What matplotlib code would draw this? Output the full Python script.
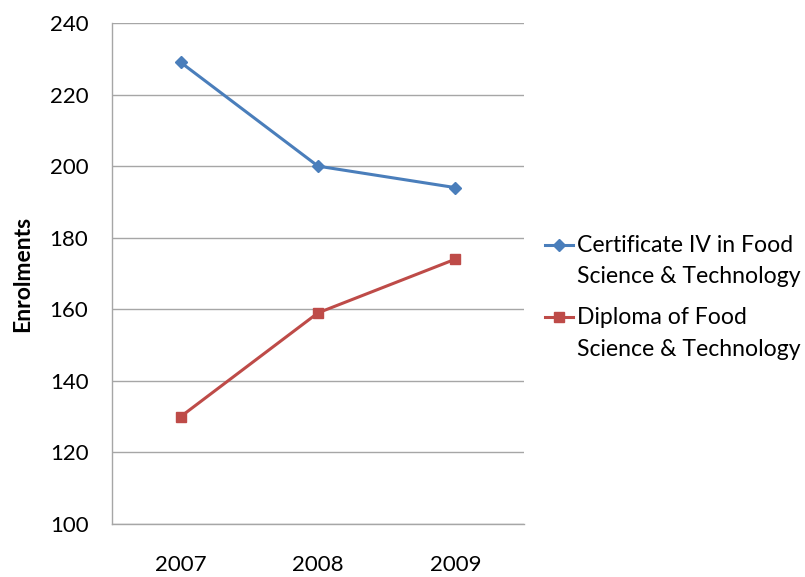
import matplotlib
matplotlib.use("Agg")
import matplotlib.pyplot as plt
from matplotlib.lines import Line2D

years = ["2007", "2008", "2009"]
cert_iv = [229, 200, 194]
diploma = [130, 159, 174]
series_labels = [["Certificate IV in Food", "Science & Technology"],
                 ["Diploma of Food", "Science & Technology"]]
y_ticks = [100, 120, 140, 160, 180, 200, 220, 240]

plt.rcParams['font.family'] = ['Lato', 'DejaVu Sans']

W, H = 805, 577
fig = plt.figure(figsize=(W / 100, H / 100), dpi=100)
ax = fig.add_axes([112 / W, (H - 524) / H, (524 - 112) / W, (524 - 23) / H])

colors = ["#4a7ebb", "#be4b48"]
markers = [("D", 6), ("s", 7)]
x = list(range(len(years)))
ax.plot(x, cert_iv, color=colors[0], lw=2.2, marker=markers[0][0], ms=markers[0][1])
ax.plot(x, diploma, color=colors[1], lw=2.2, marker=markers[1][0], ms=markers[1][1])

ax.set_xlim(-0.5, len(years) - 0.5)
ax.set_ylim(100, 240)
ax.set_yticks(y_ticks)
ax.set_xticks(x)
ax.set_xticklabels(years)
ax.tick_params(axis="both", length=0, labelsize=16, colors="black")
ax.tick_params(axis="x", pad=22)
ax.tick_params(axis="y", pad=17)
ax.yaxis.grid(True, color="#a6a6a6", lw=1)
ax.set_axisbelow(True)
for s in ["top", "right"]:
    ax.spines[s].set_visible(False)
for s in ["left", "bottom"]:
    ax.spines[s].set_color("#a6a6a6")
    ax.spines[s].set_linewidth(1)

ax.set_ylabel("Enrolments", fontsize=16.5, fontweight="bold")
ax.yaxis.set_label_coords((33 - 112) / (524 - 112), 0.5)

# legend drawn manually (handle aligned to first text line, as in the reference)
entry_tops = [245, 317]
for i, (lines, yc) in enumerate(zip(series_labels, entry_tops)):
    fy = 1 - yc / H
    fig.add_artist(Line2D([545 / W, 573 / W], [fy, fy], color=colors[i], lw=2.2,
                          transform=fig.transFigure))
    fig.add_artist(Line2D([559 / W], [fy], color=colors[i], marker=markers[i][0],
                          ms=markers[i][1], transform=fig.transFigure))
    for j, txt in enumerate(lines):
        fig.text(577 / W, 1 - (yc + 32 * j) / H, txt, fontsize=16.6,
                 ha="left", va="center")

fig.savefig("out.png", dpi=100)
